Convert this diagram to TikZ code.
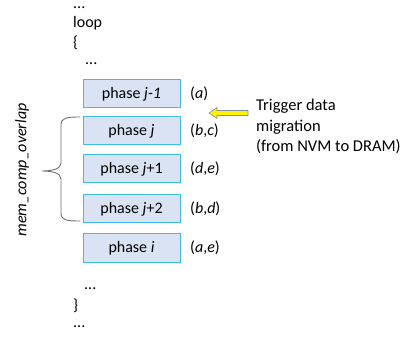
\documentclass[tikz,border=0pt]{standalone}
\usepackage{fontspec}
\setmainfont{Carlito}
\definecolor{boxfill}{HTML}{DAE3F3}
\definecolor{boxline}{HTML}{3DBBEB}
\definecolor{bracecol}{HTML}{707070}
\definecolor{arrline}{HTML}{7F8FA6}
\begin{document}
\begin{tikzpicture}[x=1pt,y=-1pt,
  txt/.style={font=\fontsize{16}{20}\selectfont, inner sep=0pt},
  phasebox/.style={draw=boxline, fill=boxfill, line width=1pt, minimum width=97pt, minimum height=28pt, inner sep=0pt, font=\fontsize{16}{20}\selectfont},
  lbl/.style={txt, anchor=west}]
\useasboundingbox (0,0) rectangle (415,339);
\node[lbl] (d1) at (73,8) {...};
\node[lbl] (loop) at (73,23) {loop};
\node[lbl] (ob) at (73,43) {\{};
\node[lbl] (d2) at (85,64) {...};
\node[phasebox] (p1) at (131.5,94) {phase \textit{j-1}};
\node[phasebox] (p2) at (131.5,131) {phase \textit{j}};
\node[phasebox] (p3) at (131.5,169) {phase \textit{j}+1};
\node[phasebox] (p4) at (131.5,209) {phase \textit{j}+2};
\node[phasebox] (p5) at (131.5,248) {phase \textit{i}};
\node[lbl] (l1) at (190,94) {(\textit{a})};
\node[lbl] (l2) at (190,131) {(\textit{b},\textit{c})};
\node[lbl] (l3) at (190,169) {(\textit{d},\textit{e})};
\node[lbl] (l4) at (190,209) {(\textit{b},\textit{d})};
\node[lbl] (l5) at (190,248) {(\textit{a},\textit{e})};
\node[lbl] (d3) at (84,289) {...};
\node[lbl] (cb) at (73,306) {\}};
\node[lbl] (d4) at (73,327) {...};
\node[txt, anchor=north west, align=left, font=\fontsize{16.5}{20.5}\selectfont] (trig) at (256,99) {Trigger data\\migration\\(from NVM to DRAM)};
\coordinate (tip) at (209,113);
\draw[arrline, fill=yellow, line width=0.6pt, line join=miter]
  (tip) -- ++(8,-5.5) -- ++(0,3) -- ++(31,0) -- ++(0,5) -- ++(-31,0) -- ++(0,3) -- cycle;
\node[txt, rotate=90, font=\fontsize{16}{20}\selectfont\itshape] (mem) at (22,170) {mem\_comp\_overlap};
\draw[bracecol, line width=0.9pt] (80,117) .. controls (66,117) and (61,118) .. (61,125)
  -- (61,163) .. controls (61,169) and (52,171) .. (42,171)
  .. controls (52,171) and (61,173) .. (61,179)
  -- (61,213) .. controls (61,220) and (66,221) .. (80,221);
\end{tikzpicture}
\end{document}
